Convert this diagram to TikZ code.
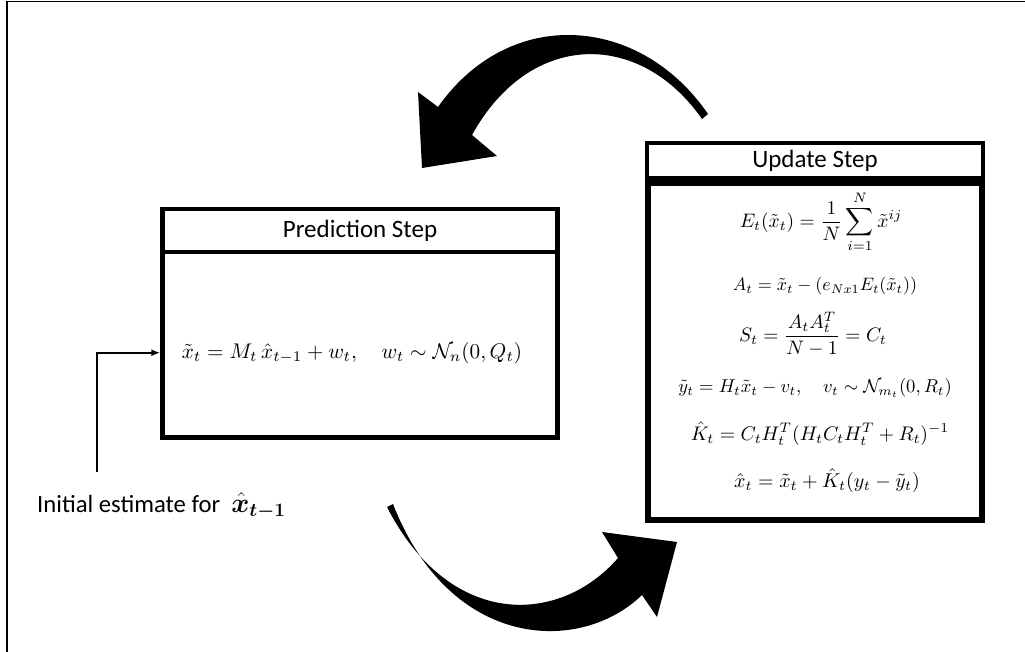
\documentclass[tikz,border=0pt]{standalone}
\usepackage{amsmath,bm}
\usepackage{graphicx}
\usepackage{fontspec}
\setmainfont{Carlito}
\usetikzlibrary{arrows.meta}
\tikzset{
  box/.style={draw=black, line width=4.5pt, fill=white, inner sep=0pt},
  ubox/.style={draw=black, line width=4pt, fill=white, inner sep=0pt},
  headtxt/.style={font=\fontsize{25}{30}\selectfont},
  eq/.style={inner sep=0pt},
  bigarrow/.style={fill=black},
  frameline/.style={line width=1.6pt, draw=black},
  conn/.style={line width=2pt, -{Latex[length=9pt,width=7pt]}}
}
\newcommand{\eqs}[2][2.0]{\scalebox{#1}{$\displaystyle #2$}}
\begin{document}
\begin{tikzpicture}[x=1pt,y=-1pt]
\useasboundingbox (0,0) rectangle (1025,652);
% frame
\draw[frameline] (7,652) -- (7,1.5) -- (1025,1.5);

% prediction box
\node[box, minimum width=395pt, minimum height=43pt] (predhead) at (360,230.5) {};
\node[headtxt] (predtitle) at (predhead.center) {Prediction Step};
\node[box, minimum width=395pt, minimum height=185.5pt] (predbody) at (360,344.75) {};
\node[eq] (predeq) at (352,353) {\eqs[2.12]{\tilde{x}_t = M_t\,\hat{x}_{t-1} + w_t, \quad w_t \sim \mathcal{N}_n(0,Q_t)}};

% update box
\node[ubox, minimum width=336pt, minimum height=35pt] (updhead) at (815,160.5) {};
\node[headtxt] (updtitle) at (updhead.center) {Update Step};
\node[box, line width=6pt, minimum width=334pt, minimum height=337pt] (updbody) at (815,351.5) {};
\node[eq] (e1) at (821,222) {\eqs[1.95]{E_t(\tilde{x}_t) = \frac{1}{N}\sum_{i=1}^{N}\tilde{x}^{ij}}};
\node[eq] (e2) at (825,286) {\eqs[1.8]{A_t = \tilde{x}_t - (e_{Nx1}E_t(\tilde{x}_t))}};
\node[eq] (e3) at (813,334) {\eqs[1.95]{S_t = \frac{A_tA_t^T}{N-1} = C_t}};
\node[eq] (e4) at (815,388) {\eqs[1.86]{\tilde{y}_t = H_t\tilde{x}_t - v_t, \quad v_t \sim \mathcal{N}_{m_t}(0,R_t)}};
\node[eq] (e5) at (820,434) {\eqs[1.97]{\hat{K}_t = C_tH_t^T(H_tC_tH_t^T+R_t)^{-1}}};
\node[eq] (e6) at (827,481) {\eqs[2.0]{\hat{x}_t = \tilde{x}_t + \hat{K}_t(y_t-\tilde{y}_t)}};

% initial estimate
\coordinate (init) at (97,472);
\draw[conn] (init) |- ([yshift=-8pt]predbody.west);
\node[anchor=base west, inner sep=0pt, font=\fontsize{24.7}{30}\selectfont] (initlabel) at (37,512) {Initial estimate for\ \ \scalebox{1.1}{$\bm{\hat{x}_{t-1}}$}};

% top curved arrow (update -> prediction)
\path[bigarrow] (708,114) .. controls (640,15) and (510,5) .. (438,107)
  -- (418,92) -- (422,168) -- (497,156) -- (472,135)
  .. controls (530,30) and (640,30) .. (702,119) -- cycle;

% bottom curved arrow (prediction -> update)
\path[bigarrow] (393,504) .. controls (450,650) and (580,655) .. (642,595)
  -- (657,617) -- (677,542) -- (602,532) -- (618,558)
  .. controls (560,625) and (450,630) .. (387,507) -- cycle;
\end{tikzpicture}
\end{document}
